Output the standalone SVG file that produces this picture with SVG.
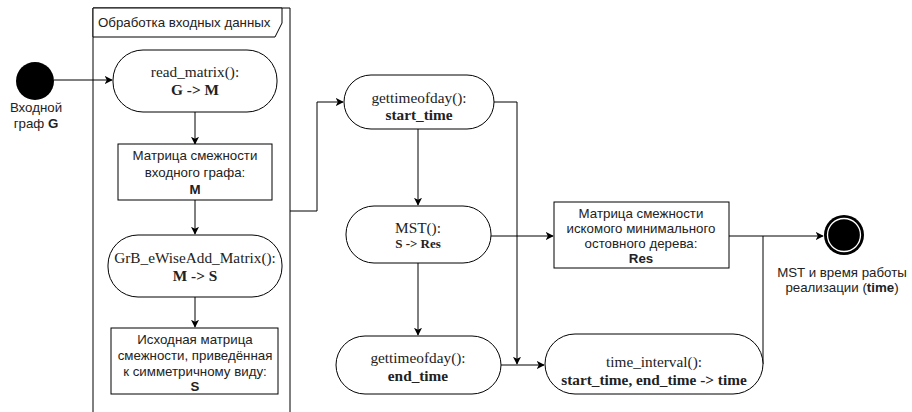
<svg xmlns="http://www.w3.org/2000/svg" width="912" height="412" viewBox="0 0 912 412">
<defs>
<marker id="arr" viewBox="0 0 10 10" refX="9" refY="5" markerWidth="8" markerHeight="8" markerUnits="userSpaceOnUse" orient="auto">
<path d="M0,0 L10,5 L0,10 L2.5,5 Z" fill="#000"/>
</marker>
<style>
.sh{fill:#fff;stroke:#000;stroke-width:1}
.ln{fill:none;stroke:#000;stroke-width:1}
.sans{font-family:"Liberation Sans",Arial,sans-serif;font-size:13.3px;fill:#222;text-anchor:middle}
.ser{font-family:"Liberation Serif","Times New Roman",serif;font-size:15.3px;fill:#222;text-anchor:middle}
.b{font-weight:bold}
</style>
</defs>
<rect width="912" height="412" fill="#fff"/>
<g id="frame">
<path class="ln" d="M93,412 V8 H290 V412"/>
<path class="sh" d="M93,8 H282 V23 L275,37 H93 Z"/>
<text class="sans" x="98" y="27" style="text-anchor:start">Обработка входных данных</text>
</g>
<g id="connectors">
<path class="ln" d="M54,80 H112" marker-end="url(#arr)"/>
<path class="ln" d="M195,112 V144" marker-end="url(#arr)"/>
<path class="ln" d="M195,200 V234" marker-end="url(#arr)"/>
<path class="ln" d="M195,297 V327" marker-end="url(#arr)"/>
<path class="ln" d="M290,211 H317 V102 H343" marker-end="url(#arr)"/>
<path class="ln" d="M418,129 V205" marker-end="url(#arr)"/>
<path class="ln" d="M418,263 V335" marker-end="url(#arr)"/>
<path class="ln" d="M494,102 H517 V364" marker-end="url(#arr)"/>
<path class="ln" d="M501,365 H544" marker-end="url(#arr)"/>
<path class="ln" d="M491,236 H553" marker-end="url(#arr)"/>
<path class="ln" d="M729,236 H823" marker-end="url(#arr)"/>
<path class="ln" d="M763,364 V236"/>
</g>
<g id="start">
<circle cx="35" cy="81" r="19" fill="#000"/>
<text class="sans" x="36" y="112">Входной</text>
<text class="sans" x="36" y="128">граф <tspan class="b">G</tspan></text>
</g>
<g id="read_matrix">
<rect class="sh" x="113" y="50" width="164" height="62" rx="30" ry="30"/>
<text class="ser" x="195" y="77">read_matrix():</text>
<text class="ser b" x="195" y="95">G -&gt; M</text>
</g>
<g id="matrix_m">
<rect class="sh" x="118" y="144" width="154" height="56"/>
<text class="sans" x="195" y="160">Матрица смежности</text>
<text class="sans" x="195" y="177">входного графа:</text>
<text class="sans b" x="195" y="194">M</text>
</g>
<g id="grb">
<rect class="sh" x="108" y="235" width="174" height="62" rx="30" ry="30"/>
<text class="ser" x="195" y="263">GrB_eWiseAdd_Matrix():</text>
<text class="ser b" x="195" y="281">M -&gt; S</text>
</g>
<g id="matrix_s">
<rect class="sh" x="111" y="328" width="167" height="66"/>
<text class="sans" x="195" y="344">Исходная матрица</text>
<text class="sans" x="195" y="360">смежности, приведённая</text>
<text class="sans" x="195" y="376">к симметричному виду:</text>
<text class="sans b" x="195" y="391">S</text>
</g>
<g id="start_time">
<rect class="sh" x="344" y="75" width="150" height="54" rx="27" ry="27"/>
<text class="ser" x="419" y="103">gettimeofday():</text>
<text class="ser b" x="419" y="120">start_time</text>
</g>
<g id="mst">
<rect class="sh" x="346" y="206" width="145" height="57" rx="28" ry="28"/>
<text class="ser" x="418" y="233">MST():</text>
<text class="ser b" x="418" y="248" style="font-size:13px">S -&gt; Res</text>
</g>
<g id="end_time">
<rect class="sh" x="336" y="336" width="165" height="58" rx="29" ry="29"/>
<text class="ser" x="418" y="363">gettimeofday():</text>
<text class="ser b" x="418" y="381">end_time</text>
</g>
<g id="res">
<rect class="sh" x="554" y="202" width="175" height="66"/>
<text class="sans" x="641" y="218">Матрица смежности</text>
<text class="sans" x="641" y="233">искомого минимального</text>
<text class="sans" x="641" y="248">остовного дерева:</text>
<text class="sans b" x="641" y="263">Res</text>
</g>
<g id="time_interval">
<rect class="sh" x="545" y="334" width="218" height="60" rx="30" ry="30"/>
<text class="ser" x="654" y="367">time_interval():</text>
<text class="ser b" x="654" y="385">start_time, end_time -&gt; time</text>
</g>
<g id="final">
<circle cx="844" cy="235" r="20" fill="#000"/>
<circle cx="844" cy="235" r="16.5" fill="#000" stroke="#fff" stroke-width="1.3"/>
<text class="sans" x="842" y="277">MST и время работы</text>
<text class="sans" x="842" y="292">реализации (<tspan class="b">time</tspan>)</text>
</g>
</svg>
